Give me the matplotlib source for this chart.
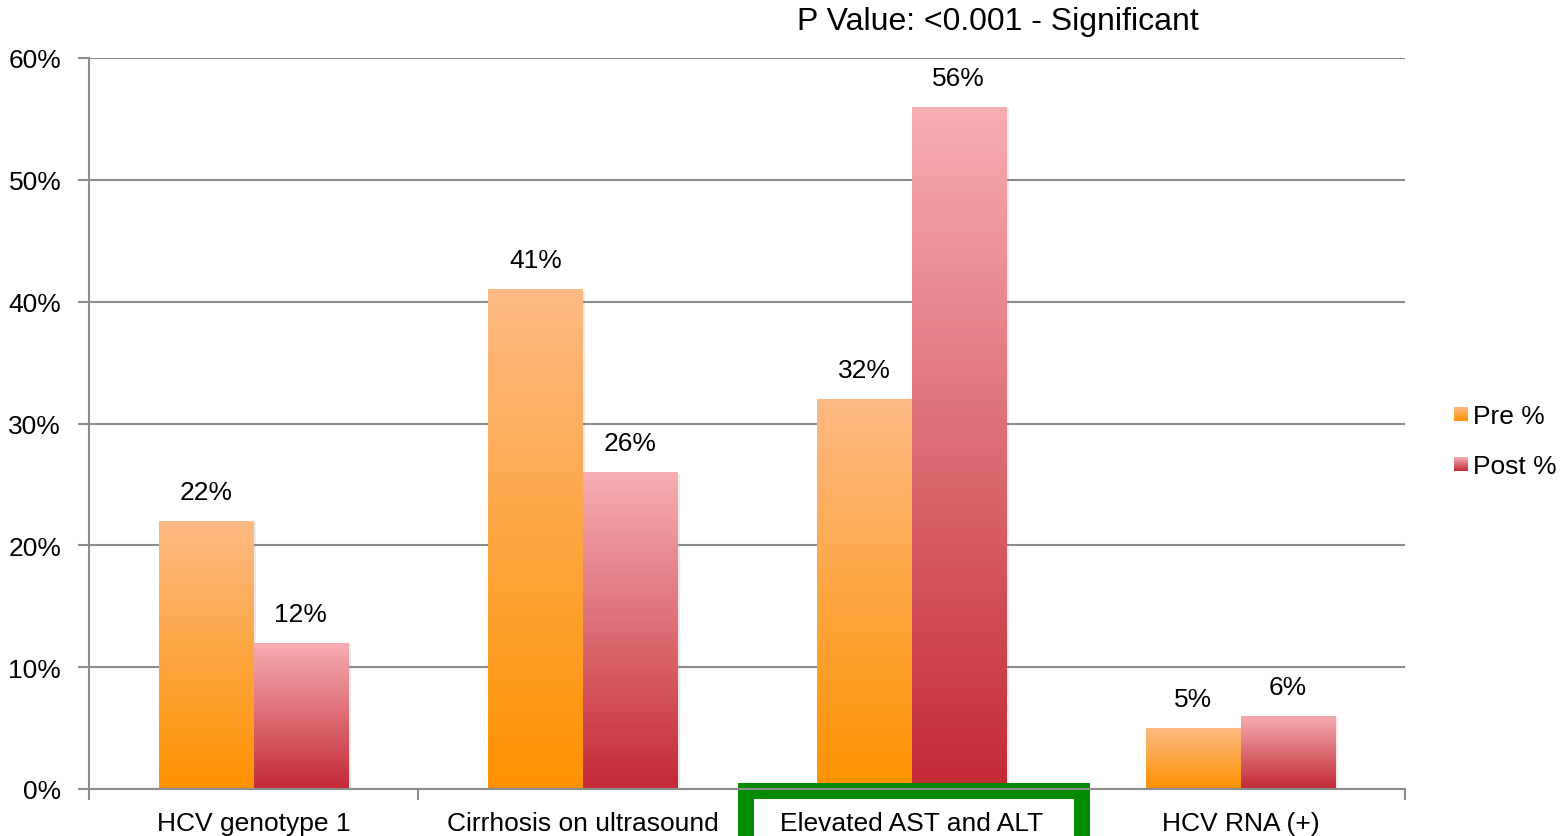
import numpy as np
import matplotlib
matplotlib.use("Agg")
import matplotlib.pyplot as plt
from matplotlib.colors import LinearSegmentedColormap
from matplotlib.patches import Rectangle
from matplotlib import patheffects as pe

plt.rcParams["font.family"] = ["Liberation Sans", "DejaVu Sans"]

categories = ["HCV genotype 1", "Cirrhosis on ultrasound", "Elevated AST and ALT", "HCV RNA (+)"]
pre_pct = [22, 41, 32, 5]
post_pct = [12, 26, 56, 6]
series_names = ["Pre %", "Post %"]
y_ticks = [0, 10, 20, 30, 40, 50, 60]
y_tick_labels = ["0%", "10%", "20%", "30%", "40%", "50%", "60%"]
title_text = "P Value: <0.001 - Significant"

pre_cmap = LinearSegmentedColormap.from_list("pre", ["#FF9200", "#FDBA84"])
post_cmap = LinearSegmentedColormap.from_list("post", ["#C32A35", "#F7AEB3"])
grad = np.linspace(0, 1, 256).reshape(-1, 1)

W, H = 1561, 837
fig = plt.figure(figsize=(W / 100, H / 100), dpi=100)
ax = fig.add_axes([89 / W, 1 - 790 / H, (1405 - 89) / W, (790 - 59) / H])

x = np.arange(len(categories))
width = 0.287
ax.set_xlim(-0.5, len(categories) - 0.5)
ax.set_ylim(0, 60)

shadow = [pe.SimplePatchShadow(offset=(2, -1), shadow_rgbFace="0.55", alpha=0.18), pe.Normal()]

for vals, offs, cmap in [(pre_pct, -width / 2, pre_cmap), (post_pct, width / 2, post_cmap)]:
    bars = ax.bar(x + offs, vals, width, color=cmap(0.5), zorder=2, path_effects=shadow)
    for rect, v in zip(bars, vals):
        x0, w, h = rect.get_x(), rect.get_width(), rect.get_height()
        im = ax.imshow(grad, cmap=cmap, origin="lower", aspect="auto",
                       extent=[x0, x0 + w, 0, h], zorder=2.1, interpolation="bicubic")
        im.set_clip_path(rect)
        ax.annotate(f"{v}%", (x0 + w / 2, h), xytext=(0, 21), textcoords="offset points",
                    ha="center", va="center", fontsize=19)

ax.set_xlim(-0.5, len(categories) - 0.5)
ax.set_ylim(0, 60)

# gridlines and axes styling
ax.set_yticks(y_ticks)
ax.set_yticklabels(y_tick_labels, fontsize=19)
ax.yaxis.grid(True, color="#8C8C8C", linewidth=1.5)
ax.set_xticks(np.arange(-0.5, len(categories)), labels=[""] * (len(categories) + 1))
ax.set_xticks(x, labels=categories, minor=True)
ax.tick_params(axis="x", which="minor", length=0, labelsize=19, pad=16)
ax.tick_params(axis="x", which="major", length=8, width=1.5, color="#8C8C8C")
ax.tick_params(axis="y", length=8, width=1.5, color="#8C8C8C", pad=12)
for side in ["top", "right"]:
    ax.spines[side].set_visible(False)
for side in ["left", "bottom"]:
    ax.spines[side].set_color("#8C8C8C")
    ax.spines[side].set_linewidth(1.5)

# green box around the highlighted category
box = Rectangle((746 / W, 1 - 880 / H), (1081.5 - 746) / W, (880 - 792) / H,
                transform=fig.transFigure, fill=False, edgecolor="#008C00",
                linewidth=11.5, clip_on=False, zorder=2.3)
ax.add_artist(box)

fig.text(998 / W, 1 - 22 / H, title_text, ha="center", va="center", fontsize=23)

# legend with gradient swatches
for name, cmap, yc in [(series_names[0], pre_cmap, 415), (series_names[1], post_cmap, 465)]:
    sw = fig.add_axes([1454 / W, 1 - (yc + 7) / H, 14 / W, 14 / H])
    sw.imshow(grad, cmap=cmap, origin="lower", aspect="auto")
    sw.axis("off")
    fig.text(1473 / W, 1 - (yc + 2) / H, name, ha="left", va="center", fontsize=19)

fig.savefig("out.png", dpi=100)
